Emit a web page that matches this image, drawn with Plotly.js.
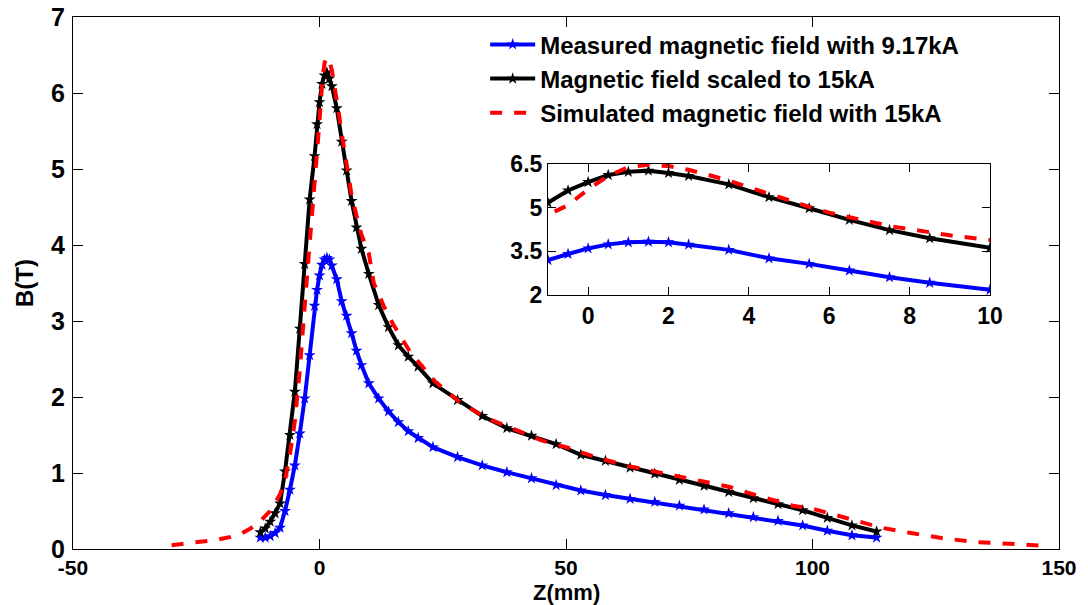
<!DOCTYPE html>
<html>
<head>
<meta charset="utf-8">
<script src="https://cdn.plot.ly/plotly-3.0.1.min.js"></script>
<style>html,body{margin:0;padding:0;background:#fff;}#chart{width:1088px;height:605px;}</style>
</head>
<body>
<div id="chart"></div>
<script>
// Measured magnetic field with 9.17kA
var zMeasured = [-12,-11,-10,-9,-8,-7,-6,-5,-4,-3,-2,-1,-0.5,0,0.5,1,1.5,2,2.5,3.5,4.5,5.5,6.5,7.5,8.5,10,12,14,16,18,20,23,28,33,38,43,48,53,58,63,68,73,78,83,88,93,98,103,108,113];
var bMeasured = [0.15,0.15,0.17,0.21,0.28,0.5,0.78,1.1,1.52,1.98,2.55,3.2,3.41,3.6,3.74,3.81,3.83,3.81,3.73,3.55,3.26,3.07,2.84,2.61,2.42,2.18,1.98,1.81,1.67,1.55,1.46,1.34,1.21,1.10,1.01,0.93,0.84,0.77,0.71,0.66,0.62,0.57,0.52,0.47,0.42,0.37,0.31,0.24,0.18,0.15];
// Magnetic field scaled to 15kA
var zScaled = [-12,-11,-10,-9,-8,-7,-6,-5,-4,-3,-2,-1,-0.5,0,0.5,1,1.5,2,2.5,3.5,4.5,5.5,6.5,7.5,8.5,10,12,14,16,18,20,23,28,33,38,43,48,53,58,63,68,73,78,83,88,93,98,103,108,113];
var bScaled = [0.22,0.27,0.36,0.47,0.6,1.02,1.5,2.07,2.9,3.75,4.6,5.17,5.59,5.88,6.12,6.23,6.27,6.19,6.09,5.80,5.36,4.98,4.58,4.23,3.95,3.62,3.21,2.92,2.68,2.53,2.40,2.18,1.96,1.75,1.59,1.49,1.38,1.24,1.16,1.07,0.99,0.91,0.83,0.75,0.67,0.59,0.51,0.41,0.31,0.23];
// Simulated magnetic field with 15kA
var zSim = [-30,-27,-24,-21,-18,-16,-14,-12,-10,-9,-8,-7,-6,-5,-4,-3,-2,-1,-0.5,0,0.5,1,1.5,2,2.5,3,3.5,4,4.5,5,5.5,6,6.5,7,7.5,8,8.5,9,10,11,13,15,18.5,23.5,28.5,34,39.5,45,50,56,62,69,76,83,89.5,96,100,106,114,120,126.5,133.5,140,148];
var bSim = [0.05,0.07,0.09,0.12,0.16,0.2,0.27,0.37,0.5,0.6,0.72,0.9,1.25,1.68,2.35,3.2,4.0,4.75,5.09,5.63,6.09,6.39,6.47,6.43,6.30,6.12,5.93,5.70,5.47,5.26,5.03,4.83,4.66,4.52,4.37,4.26,4.14,4.05,3.89,3.5,3.2,2.95,2.58,2.2,1.93,1.72,1.57,1.43,1.34,1.21,1.1,1.01,0.92,0.82,0.69,0.57,0.53,0.42,0.28,0.21,0.14,0.09,0.07,0.04];

var names = ['Measured magnetic field with 9.17kA','Magnetic field scaled to 15kA','Simulated magnetic field with 15kA'];
var xTicksMain = [-50,0,50,100,150];
var xTickTextMain = ['-50','0','50','100','150'];
var yTicksMain = [0,1,2,3,4,5,6,7];
var xTicksInset = [0,2,4,6,8,10];
var yTicksInset = [2,3.5,5,6.5];
var xTitle = 'Z(mm)';
var yTitle = 'B(T)';

function series(x, y, name, color, dash, withMarkers, xa, ya, show) {
  return {
    x: x, y: y, name: name, type: 'scatter',
    mode: withMarkers ? 'lines+markers' : 'lines',
    line: {color: color, width: 4, dash: dash},
    marker: {symbol: 'star', size: 9, color: color},
    xaxis: xa, yaxis: ya, showlegend: show, cliponaxis: true
  };
}

var data = [
  series(zMeasured, bMeasured, names[0], '#0000ff', 'solid', true, 'x', 'y', true),
  series(zScaled, bScaled, names[1], '#000000', 'solid', true, 'x', 'y', true),
  series(zSim, bSim, names[2], '#ff0000', 'dash', false, 'x', 'y', true),
  series(zMeasured, bMeasured, names[0], '#0000ff', 'solid', true, 'x2', 'y2', false),
  series(zScaled, bScaled, names[1], '#000000', 'solid', true, 'x2', 'y2', false),
  series(zSim, bSim, names[2], '#ff0000', 'dash', false, 'x2', 'y2', false)
];

var tickF = {family: 'Liberation Sans, Arial, sans-serif', size: 25, color: '#000', weight: 'bold'};
var axCommon = {showgrid: false, zeroline: false, showline: true, linecolor: '#000', linewidth: 1,
  mirror: 'ticks', ticks: 'inside', ticklen: 10, tickcolor: '#000', tickwidth: 1, tickfont: tickF};

var layout = {
  width: 1088, height: 605,
  margin: {l: 73, r: 29, t: 17, b: 56},
  paper_bgcolor: '#fff', plot_bgcolor: '#fff',
  font: {family: 'Liberation Sans, Arial, sans-serif', color: '#000'},
  xaxis: Object.assign({}, axCommon, {domain: [0, 1], range: [-50, 150], tickvals: xTicksMain, ticktext: xTickTextMain,
    ticklabelstandoff: 0, tickfont: Object.assign({}, tickF, {size: 21})}),
  yaxis: Object.assign({}, axCommon, {domain: [0, 1], range: [0, 7], tickvals: yTicksMain, ticklabelstandoff: 2,
    title: {text: yTitle, font: {size: 24, weight: 'bold'}, standoff: 10}}),
  xaxis2: Object.assign({}, axCommon, {domain: [0.4817, 0.930], range: [-1, 10], tickvals: xTicksInset,
    anchor: 'y2', ticklen: 8, tickfont: Object.assign({}, tickF, {size: 23})}),
  yaxis2: Object.assign({}, axCommon, {domain: [0.4774, 0.7237], range: [2, 6.5], tickvals: yTicksInset,
    anchor: 'x2', ticklen: 8, tickfont: Object.assign({}, tickF, {size: 23})}),
  annotations: [{text: xTitle, xref: 'paper', yref: 'paper', x: 0.5, y: -0.082, xanchor: 'center', yanchor: 'middle',
    showarrow: false, font: {size: 22, weight: 'bold', family: 'Liberation Sans Narrow, Liberation Sans, sans-serif', color: '#000'}}],
  showlegend: true,
  legend: {x: 0.418, y: 0.99, xanchor: 'left', yanchor: 'top', bgcolor: 'rgba(255,255,255,0)',
    borderwidth: 0, itemwidth: 45, tracegroupgap: 0,
    font: {size: 24, weight: 'bold', family: 'Liberation Sans, Arial, sans-serif', color: '#000'}},
  shapes: [{type: 'rect', xref: 'x2 domain', yref: 'y2 domain', x0: 0, x1: 1, y0: 0, y1: 1,
    fillcolor: '#fff', line: {width: 0}, layer: 'below'}]
};

Plotly.newPlot('chart', data, layout, {staticPlot: true, displayModeBar: false});
</script>
</body>
</html>
